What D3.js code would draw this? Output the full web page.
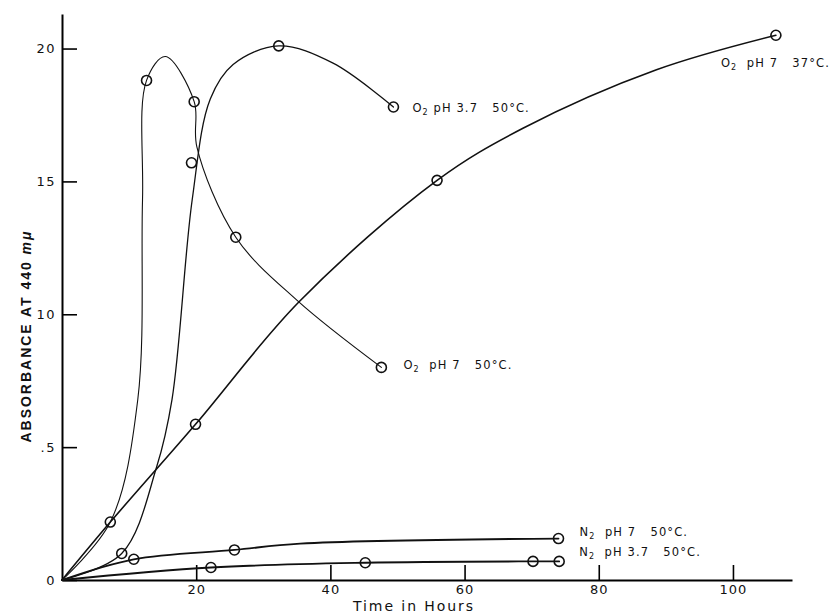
<!DOCTYPE html>
<html>
<head>
<meta charset="utf-8">
<script src="https://cdn.jsdelivr.net/npm/d3@7"></script>
<style>
  html, body { margin: 0; padding: 0; background: #fff; }
  svg { display: block; }
  .lbl { font-family: "DejaVu Sans", sans-serif; font-size: 11.5px; letter-spacing: 1.1px; white-space: pre; fill: #111; }
</style>
</head>
<body>
<svg id="chart" width="832" height="613"></svg>
<script>
// axis ticks
const xTicks = [20, 40, 60, 80, 100];
const xTickLabels = ["20", "40", "60", "80", "100"];
const yTicks = [0, 0.5, 1.0, 1.5, 2.0];
const yTickLabels = ["0", ".5", "10", "15", "20"];

// curve labels (main text, subscript, rest)
const seriesNames = [
  ["O", "2", " pH 3.7   50°C."],
  ["O", "2", "  pH 7   50°C."],
  ["O", "2", "  pH 7   37°C."],
  ["N", "2", "  pH 7   50°C."],
  ["N", "2", "  pH 3.7   50°C."]
];

// measured points [hours, absorbance] (circles)
const o2Acid50Marks = [[8.9, 0.10], [19.3, 1.57], [32.3, 2.01], [49.4, 1.78]];
const o2Neutral50Marks = [[7.2, 0.218], [12.6, 1.88], [19.7, 1.80], [25.9, 1.29], [47.6, 0.80]];
const o2Neutral37Marks = [[19.9, 0.586], [55.9, 1.504], [106.4, 2.05]];
const n2Neutral50Marks = [[10.7, 0.078], [25.7, 0.113], [74.0, 0.156]];
const n2Acid50Marks = [[22.2, 0.047], [45.2, 0.065], [70.2, 0.070], [74.1, 0.070]];

// the hand drawn curves [hours, absorbance]
const o2Acid50Line = [[0, 0], [8.9, 0.10], [14.1, 0.425], [16.4, 0.68], [19.4, 1.43], [22.1, 1.81], [25.5, 1.94], [32.3, 2.01], [40.4, 1.945], [49.4, 1.78]];
const o2Neutral50Line = [[0, 0], [7.2, 0.218], [11.3, 0.68], [12.0, 1.43], [12.6, 1.88], [15.4, 1.97], [19.7, 1.80], [20.1, 1.63], [25.9, 1.29], [35.0, 1.053], [47.6, 0.80]];
const o2Neutral37Line = [[0, 0], [7.2, 0.218], [19.9, 0.586], [35.3, 1.046], [55.9, 1.504], [68.7, 1.70], [88.6, 1.92], [106.4, 2.05]];
const n2Neutral50Line = [[0, 0], [10.7, 0.078], [25.7, 0.113], [35.5, 0.137], [74.0, 0.156]];
const n2Acid50Line = [[0, 0], [22.2, 0.047], [45.2, 0.065], [70.2, 0.070], [74.1, 0.070]];

const svg = d3.select("#chart");

const x = d3.scaleLinear().domain([0, 108.8]).range([62, 792]);
const y = d3.scaleLinear().domain([0, 2.13]).range([580, 14]);

// series drawing setup: line, marks, label offset from last mark, stroke
const series = [
  { line: o2Acid50Line, marks: o2Acid50Marks, name: seriesNames[0], dx: 19, dy: 5, sw: 1.3 },
  { line: o2Neutral50Line, marks: o2Neutral50Marks, name: seriesNames[1], dx: 22, dy: 2, sw: 1.1 },
  { line: o2Neutral37Line, marks: o2Neutral37Marks, name: seriesNames[2], dx: -55, dy: 32, sw: 1.6 },
  { line: n2Neutral50Line, marks: n2Neutral50Marks, name: seriesNames[3], dx: 21, dy: -3, sw: 1.8 },
  { line: n2Acid50Line, marks: n2Acid50Marks, name: seriesNames[4], dx: 20, dy: -5, sw: 1.8 }
];

// axes
const xAxis = g => g
  .attr("transform", `translate(0,${y(0)})`)
  .call(d3.axisBottom(x).tickValues(xTicks).tickFormat((d, i) => xTickLabels[i])
    .tickSizeInner(-15).tickSizeOuter(0).tickPadding(5))
  .call(g => g.select(".domain").attr("stroke-width", 2))
  .call(g => g.selectAll(".tick line").attr("stroke-width", 1.6))
  .call(g => g.selectAll(".tick text")
    .attr("font-family", "DejaVu Sans, sans-serif")
    .attr("font-size", 13)
    .attr("letter-spacing", "1px")
    .attr("fill", "#111"));

const yAxis = g => g
  .attr("transform", `translate(${x(0)},0)`)
  .call(d3.axisLeft(y).tickValues(yTicks).tickFormat((d, i) => yTickLabels[i])
    .tickSizeInner(-15).tickSizeOuter(0).tickPadding(6))
  .call(g => g.select(".domain").attr("stroke-width", 2))
  .call(g => g.selectAll(".tick line").attr("stroke-width", 1.6))
  .call(g => g.selectAll(".tick text")
    .attr("font-family", "DejaVu Sans, sans-serif")
    .attr("font-size", 13)
    .attr("letter-spacing", "1.5px")
    .attr("fill", "#111"));

svg.append("g").call(xAxis);
svg.append("g").call(yAxis);

// axis titles
svg.append("text")
  .attr("x", 413)
  .attr("y", 611)
  .attr("text-anchor", "middle")
  .attr("font-family", "DejaVu Sans, sans-serif")
  .attr("font-size", 14)
  .attr("textLength", 120)
  .attr("lengthAdjust", "spacing")
  .attr("fill", "#111")
  .text("Time in Hours");

const yTitle = svg.append("text")
  .attr("transform", "translate(31,337) rotate(-90)")
  .attr("text-anchor", "middle")
  .attr("font-family", "Liberation Sans, Arial, sans-serif")
  .attr("font-weight", "bold")
  .attr("font-size", 14)
  .attr("textLength", 211)
  .attr("lengthAdjust", "spacing")
  .attr("fill", "#111");
yTitle.append("tspan").text("ABSORBANCE AT 440 ");
yTitle.append("tspan").attr("font-style", "italic").text("mμ");

// curves
const line = d3.line()
  .x(d => x(d[0]))
  .y(d => y(d[1]))
  .curve(d3.curveCatmullRom.alpha(0.5));

series.forEach(s => {
  svg.append("path")
    .datum(s.line)
    .attr("fill", "none")
    .attr("stroke", "#111")
    .attr("stroke-width", s.sw)
    .attr("stroke-linejoin", "round")
    .attr("stroke-linecap", "round")
    .attr("d", line);

  svg.append("g")
    .selectAll("circle")
    .data(s.marks)
    .join("circle")
    .attr("cx", d => x(d[0]))
    .attr("cy", d => y(d[1]))
    .attr("r", 5)
    .attr("fill", "none")
    .attr("stroke", "#111")
    .attr("stroke-width", 1.6);

  const last = s.marks[s.marks.length - 1];
  const t = svg.append("text")
    .attr("class", "lbl")
    .attr("x", x(last[0]) + s.dx)
    .attr("y", y(last[1]) + s.dy);
  t.append("tspan").text(s.name[0]);
  t.append("tspan").attr("dy", 3).attr("font-size", 8).text(s.name[1]);
  t.append("tspan").attr("dy", -3).text(s.name[2]);
});
</script>
</body>
</html>
